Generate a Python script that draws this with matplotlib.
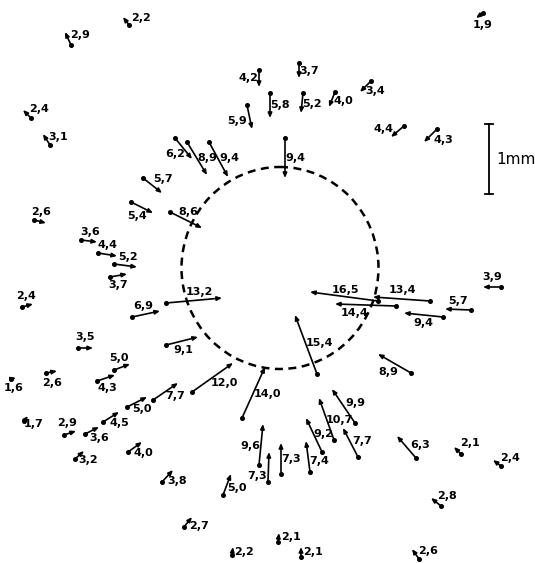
import matplotlib
matplotlib.use('Agg')
import matplotlib.pyplot as plt
from matplotlib.patches import Ellipse

# Displacement vectors, in picture units (1 mm = 70 units), y grows downwards
labels = ['2,2', '2,9', '2,4', '3,1', '1,9', '4,2', '3,7', '5,8', '5,2', '4,0',
          '5,9', '3,4', '4,4', '4,3', '6,2', '8,9', '9,4', '9,4', '8,6', '5,7',
          '5,4', '2,6', '3,6', '4,4', '5,2', '3,7', '2,4', '6,9', '13,2', '3,5',
          '5,0', '9,1', '1,6', '2,6', '4,3', '5,0', '7,7', '12,0', '14,0', '1,7',
          '2,9', '3,6', '4,5', '3,2', '4,0', '3,8', '2,7', '5,0', '9,6', '7,3',
          '7,3', '7,4', '9,2', '10,7', '9,9', '7,7', '2,1', '2,2', '2,1', '15,4',
          '16,5', '14,4', '13,4', '9,4', '5,7', '3,9', '8,9', '6,3', '2,1', '2,4',
          '2,8', '2,6']

tail_x = [129, 71, 31, 50, 483, 259, 299, 270, 303, 335,
          247, 371, 404, 437, 175, 187, 209, 285, 170, 143,
          131, 34, 81, 98, 114, 110, 22, 132, 166, 78,
          114, 166, 11, 46, 97, 127, 153, 192, 242, 24,
          64, 85, 103, 75, 128, 162, 184, 223, 259, 268,
          281, 310, 322, 334, 355, 358, 278, 232, 301, 317,
          378, 396, 430, 443, 471, 501, 411, 416, 461, 501,
          441, 419]
tail_y = [25, 45, 118, 145, 13, 70, 63, 93, 93, 92,
          105, 81, 126, 129, 138, 142, 142, 138, 212, 178,
          202, 220, 240, 253, 264, 277, 307, 317, 303, 348,
          370, 345, 379, 373, 381, 407, 400, 392, 418, 421,
          435, 434, 422, 459, 452, 482, 527, 495, 465, 482,
          474, 472, 452, 440, 423, 457, 542, 555, 557, 374,
          301, 306, 301, 317, 310, 287, 373, 458, 454, 466,
          506, 559]
head_x = [123, 65, 23, 43, 476, 259, 299, 270, 301, 329,
          252, 360, 391, 424, 192, 207, 228, 285, 202, 162,
          153, 46, 97, 117, 137, 127, 33, 160, 222, 93,
          130, 198, 16, 57, 115, 147, 178, 233, 265, 28,
          76, 99, 119, 84, 142, 173, 192, 231, 263, 269,
          281, 306, 306, 319, 332, 343, 279, 233, 301, 295,
          310, 335, 373, 404, 445, 483, 378, 397, 454, 493,
          431, 412]
head_y = [17, 32, 110, 134, 18, 87, 78, 118, 113, 107,
          129, 92, 137, 142, 159, 175, 177, 178, 228, 193,
          213, 223, 242, 256, 267, 274, 304, 311, 298, 348,
          364, 337, 378, 371, 375, 397, 383, 363, 367, 416,
          431, 427, 412, 451, 442, 470, 517, 474, 424, 452,
          443, 441, 418, 398, 389, 428, 533, 547, 547, 315,
          292, 304, 297, 313, 309, 287, 354, 436, 447, 460,
          498, 549]

# where each number is written
label_x = [141, 80, 39, 58, 483, 248, 309, 280, 312, 343,
           237, 375, 384, 443, 175, 207, 229, 295, 188, 163,
           137, 41, 90, 108, 128, 118, 26, 143, 199, 85,
           119, 183, 14, 52, 107, 142, 175, 224, 267, 34,
           67, 99, 119, 88, 143, 177, 199, 237, 250, 257,
           291, 319, 323, 339, 355, 362, 291, 244, 313, 319,
           345, 355, 402, 423, 458, 492, 388, 420, 470, 510,
           447, 428]
label_y = [18, 35, 109, 137, 25, 78, 71, 105, 104, 101,
           121, 91, 129, 140, 154, 158, 158, 158, 212, 179,
           216, 212, 232, 245, 257, 285, 296, 306, 292, 337,
           358, 350, 388, 383, 388, 409, 396, 383, 394, 424,
           423, 438, 423, 460, 453, 481, 526, 488, 446, 476,
           459, 461, 434, 420, 403, 441, 537, 552, 552, 343,
           290, 313, 290, 323, 301, 277, 372, 445, 443, 458,
           496, 551]

fig = plt.figure(figsize=(5.35, 5.63), dpi=100)
ax = fig.add_axes([0, 0, 1, 1])
ax.set_xlim(0, 535)
ax.set_ylim(563, 0)
ax.axis('off')

# dashed circle
ax.add_patch(Ellipse((280, 268), 197, 202, fill=False, color='black',
                     lw=1.8, linestyle=(0, (3.2, 2.2))))

# arrows
for i in range(len(labels)):
    ax.annotate('', xy=(head_x[i], head_y[i]), xytext=(tail_x[i], tail_y[i]),
                arrowprops=dict(arrowstyle='-|>,head_length=0.35,head_width=0.15',
                                color='black', lw=1.2, shrinkA=0, shrinkB=0,
                                mutation_scale=8))
    ax.plot(tail_x[i], tail_y[i], 'o', color='black', markersize=2.6)
    ax.text(label_x[i], label_y[i], labels[i], ha='center', va='center',
            fontsize=8, fontweight='bold', family='DejaVu Sans')

# scale bar
ax.plot([489, 489], [124, 194], color='black', lw=1.3)
ax.plot([485, 493], [124, 124], color='black', lw=1.3)
ax.plot([485, 493], [194, 194], color='black', lw=1.3)
ax.text(496, 160, '1mm', ha='left', va='center', fontsize=11, family='DejaVu Sans')

fig.savefig('out.png', dpi=100)
